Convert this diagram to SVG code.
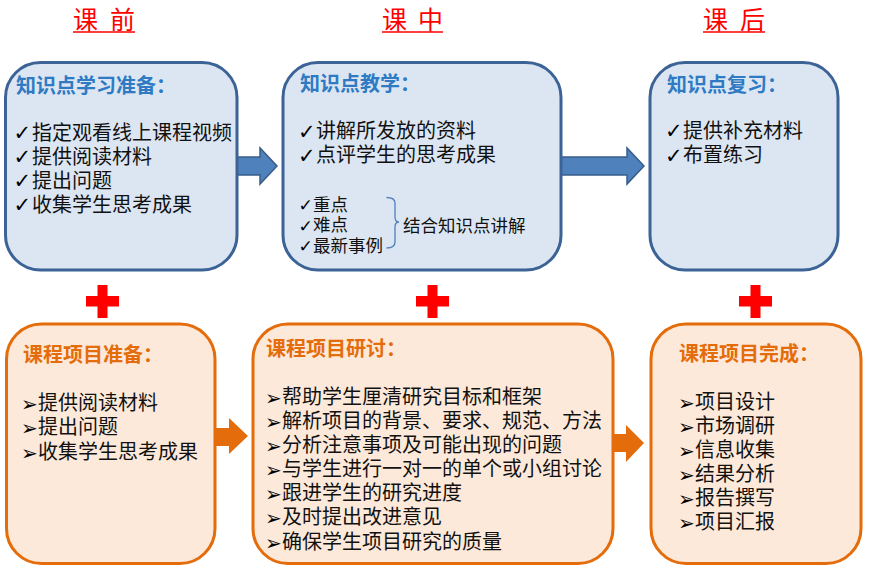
<svg xmlns="http://www.w3.org/2000/svg" width="872" height="573" viewBox="0 0 872 573">
<style>
  .hdr { font-family: "Liberation Sans", "Noto Sans CJK SC", sans-serif; font-size: 25px; fill: #FF0000; }
  .uline { stroke: #FF0000; stroke-width: 1.5; }
  .ttlb { font-family: "Liberation Sans", "Noto Sans CJK SC", sans-serif; font-size: 20px; font-weight: bold; fill: #2E7BC4; }
  .ttlo { font-family: "Liberation Sans", "Noto Sans CJK SC", sans-serif; font-size: 20px; font-weight: bold; fill: #E46C0A; }
  .item { font-family: "Liberation Sans", "Noto Sans CJK SC", sans-serif; font-size: 20px; fill: #111111; }
  .small { font-family: "Liberation Sans", "Noto Sans CJK SC", sans-serif; font-size: 17.5px; fill: #111111; }
  .ck { font-family: "DejaVu Sans", sans-serif; font-size: 21px; font-weight: bold; fill: #000000; }
  .cks { font-family: "DejaVu Sans", sans-serif; font-size: 17px; font-weight: bold; fill: #000000; }
  .ar { font-family: "DejaVu Sans", sans-serif; font-size: 20px; fill: #000000; }
  .boxb { fill: #DCE6F2; stroke: #3B6396; stroke-width: 3; }
  .boxo { fill: #FDE9D9; stroke: #E46C0A; stroke-width: 3; }
  .arrb { fill: #4F81BD; stroke: #385D8A; stroke-width: 1.5; }
  .arro { fill: #E46C0A; }
  .plus { fill: #FF0000; }
</style>

<g id="headers">
  <text class="hdr" x="73" y="29" textLength="62" lengthAdjust="spacing">课 前</text>
  <line class="uline" x1="73" y1="32" x2="135" y2="32"/>
  <text class="hdr" x="382" y="29" textLength="61" lengthAdjust="spacing">课 中</text>
  <line class="uline" x1="382" y1="32" x2="443" y2="32"/>
  <text class="hdr" x="703" y="29" textLength="62" lengthAdjust="spacing">课 后</text>
  <line class="uline" x1="703" y1="32" x2="765" y2="32"/>
</g>

<g id="connectors">
  <polygon class="arrb" points="237,157 260,157 260,148 277,166 260,184 260,175 237,175"/>
  <polygon class="arrb" points="561,157 627,157 627,148 644,166 627,184 627,175 561,175"/>
  <polygon class="arro" points="215,428 229,428 229,418 248,436 229,454 229,446 215,446"/>
  <polygon class="arro" points="613,434 626,434 626,425 644,443 626,462 626,452 613,452"/>
</g>

<g id="plus-signs">
  <path class="plus" d="M97.5,285 h10 v11 h11.5 v10.5 h-11.5 v11.5 h-10 v-11.5 h-11.5 v-10.5 h11.5 z"/>
  <path class="plus" d="M427.5,285 h10 v11 h11.5 v10.5 h-11.5 v11.5 h-10 v-11.5 h-11.5 v-10.5 h11.5 z"/>
  <path class="plus" d="M750.5,285 h10 v11 h11.5 v10.5 h-11.5 v11.5 h-10 v-11.5 h-11.5 v-10.5 h11.5 z"/>
</g>

<g id="node-pre-knowledge">
  <rect class="boxb" x="5.5" y="62.5" width="231.5" height="207.5" rx="35" ry="35"/>
  <text class="ttlb" x="16" y="92.5">知识点学习准备：</text>
  <text class="item" y="139.5"><tspan class="ck" x="13.5" dy="0.5">✓</tspan><tspan x="32" dy="-0.5">指定观看线上课程视频</tspan></text>
  <text class="item" y="163.5"><tspan class="ck" x="13.5" dy="0.5">✓</tspan><tspan x="32" dy="-0.5">提供阅读材料</tspan></text>
  <text class="item" y="187.5"><tspan class="ck" x="13.5" dy="0.5">✓</tspan><tspan x="32" dy="-0.5">提出问题</tspan></text>
  <text class="item" y="211.5"><tspan class="ck" x="13.5" dy="0.5">✓</tspan><tspan x="32" dy="-0.5">收集学生思考成果</tspan></text>
</g>

<g id="node-in-knowledge">
  <rect class="boxb" x="283" y="62.5" width="278" height="207.5" rx="35" ry="35"/>
  <text class="ttlb" x="300" y="91">知识点教学：</text>
  <text class="item" y="138"><tspan class="ck" x="298" dy="0.5">✓</tspan><tspan x="316" dy="-0.5">讲解所发放的资料</tspan></text>
  <text class="item" y="162"><tspan class="ck" x="298" dy="0.5">✓</tspan><tspan x="316" dy="-0.5">点评学生的思考成果</tspan></text>
  <text class="small" y="210.5"><tspan class="cks" x="298.5" dy="0.5">✓</tspan><tspan x="313" dy="-0.5">重点</tspan></text>
  <text class="small" y="231"><tspan class="cks" x="298.5" dy="0.5">✓</tspan><tspan x="313" dy="-0.5">难点</tspan></text>
  <text class="small" y="251.5"><tspan class="cks" x="298.5" dy="0.5">✓</tspan><tspan x="313" dy="-0.5">最新事例</tspan></text>
  <path d="M386.5,197.5 Q395,197.5 395,203 V217 Q395,222 399,222 Q395,222 395,227 V242 Q395,248 386.5,248" fill="none" stroke="#4F81BD" stroke-width="1.3"/>
  <text class="small" x="403" y="231.5">结合知识点讲解</text>
</g>

<g id="node-post-knowledge">
  <rect class="boxb" x="650" y="62.5" width="188" height="207.5" rx="35" ry="35"/>
  <text class="ttlb" x="667" y="92">知识点复习：</text>
  <text class="item" y="137.5"><tspan class="ck" x="665" dy="0.5">✓</tspan><tspan x="683" dy="-0.5">提供补充材料</tspan></text>
  <text class="item" y="162"><tspan class="ck" x="665" dy="0.5">✓</tspan><tspan x="683" dy="-0.5">布置练习</tspan></text>
</g>

<g id="node-pre-project">
  <rect class="boxo" x="6.5" y="324" width="208.5" height="239.5" rx="35" ry="35"/>
  <text class="ttlo" x="23" y="362">课程项目准备：</text>
  <text class="item" y="410"><tspan class="ar" x="21" dy="1">➢</tspan><tspan x="38" dy="-1">提供阅读材料</tspan></text>
  <text class="item" y="434"><tspan class="ar" x="21" dy="1">➢</tspan><tspan x="38" dy="-1">提出问题</tspan></text>
  <text class="item" y="458.5"><tspan class="ar" x="21" dy="1">➢</tspan><tspan x="38" dy="-1">收集学生思考成果</tspan></text>
</g>

<g id="node-in-project">
  <rect class="boxo" x="253" y="324" width="360" height="239.5" rx="35" ry="35"/>
  <text class="ttlo" x="266" y="355.5">课程项目研讨：</text>
  <text class="item" y="404"><tspan class="ar" x="265" dy="1">➢</tspan><tspan x="282" dy="-1">帮助学生厘清研究目标和框架</tspan></text>
  <text class="item" y="428"><tspan class="ar" x="265" dy="1">➢</tspan><tspan x="282" dy="-1">解析项目的背景、要求、规范、方法</tspan></text>
  <text class="item" y="452"><tspan class="ar" x="265" dy="1">➢</tspan><tspan x="282" dy="-1">分析注意事项及可能出现的问题</tspan></text>
  <text class="item" y="476"><tspan class="ar" x="265" dy="1">➢</tspan><tspan x="282" dy="-1">与学生进行一对一的单个或小组讨论</tspan></text>
  <text class="item" y="500"><tspan class="ar" x="265" dy="1">➢</tspan><tspan x="282" dy="-1">跟进学生的研究进度</tspan></text>
  <text class="item" y="524"><tspan class="ar" x="265" dy="1">➢</tspan><tspan x="282" dy="-1">及时提出改进意见</tspan></text>
  <text class="item" y="548.5"><tspan class="ar" x="265" dy="1">➢</tspan><tspan x="282" dy="-1">确保学生项目研究的质量</tspan></text>
</g>

<g id="node-post-project">
  <rect class="boxo" x="651" y="324" width="210" height="239.5" rx="35" ry="35"/>
  <text class="ttlo" x="679" y="360.5">课程项目完成：</text>
  <text class="item" y="409"><tspan class="ar" x="678" dy="1">➢</tspan><tspan x="695" dy="-1">项目设计</tspan></text>
  <text class="item" y="433"><tspan class="ar" x="678" dy="1">➢</tspan><tspan x="695" dy="-1">市场调研</tspan></text>
  <text class="item" y="457"><tspan class="ar" x="678" dy="1">➢</tspan><tspan x="695" dy="-1">信息收集</tspan></text>
  <text class="item" y="481"><tspan class="ar" x="678" dy="1">➢</tspan><tspan x="695" dy="-1">结果分析</tspan></text>
  <text class="item" y="505"><tspan class="ar" x="678" dy="1">➢</tspan><tspan x="695" dy="-1">报告撰写</tspan></text>
  <text class="item" y="529"><tspan class="ar" x="678" dy="1">➢</tspan><tspan x="695" dy="-1">项目汇报</tspan></text>
</g>
</svg>
